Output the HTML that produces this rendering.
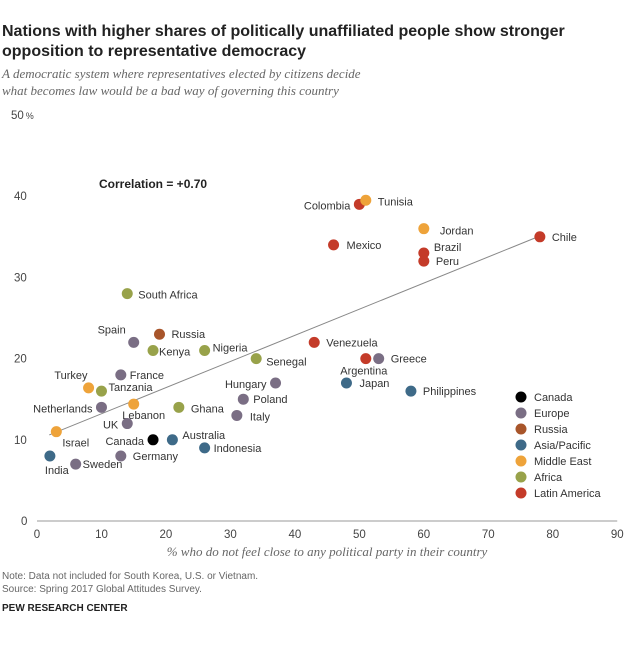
<!DOCTYPE html>
<html><head><meta charset="utf-8"><style>
body{margin:0;background:#fff;font-family:"Liberation Sans",sans-serif;}
</style></head><body>
<svg id="chart" width="640" height="640" viewBox="0 0 640 640" xmlns="http://www.w3.org/2000/svg" font-family="Liberation Sans, sans-serif">
<text x="2" y="36" font-size="16" font-weight="bold" fill="#222">Nations with higher shares of politically unaffiliated people show stronger</text>
<text x="2" y="56" font-size="16" font-weight="bold" fill="#222">opposition to representative democracy</text>
<text x="2" y="78" font-size="13" font-style="italic" fill="#666" font-family="Liberation Serif, serif">A democratic system where representatives elected by citizens decide</text>
<text x="2" y="95" font-size="13" font-style="italic" fill="#666" font-family="Liberation Serif, serif">what becomes law would be a bad way of governing this country</text>
<text x="99" y="188" font-size="12" font-weight="bold" fill="#222">Correlation = +0.70</text>
<text x="327" y="556" font-size="13" font-style="italic" fill="#666" text-anchor="middle" font-family="Liberation Serif, serif">% who do not feel close to any political party in their country</text>
<text x="2" y="579" font-size="10" fill="#666">Note: Data not included for South Korea, U.S. or Vietnam.</text>
<text x="2" y="592" font-size="10" fill="#666">Source: Spring 2017 Global Attitudes Survey.</text>
<text x="2" y="611" font-size="10" font-weight="bold" fill="#222">PEW RESEARCH CENTER</text>
<g id="axes"></g><g id="marks"></g><g id="legend"></g>
</svg>
<script>
const countries=["Chile","Colombia","Tunisia","Jordan","Mexico","Brazil","Peru","South Africa","Spain","Russia","Kenya","Nigeria","Senegal","Venezuela","Argentina","Greece","France","Hungary","Japan","Turkey","Tanzania","Philippines","Netherlands","Lebanon","Ghana","Poland","Italy","UK","Israel","Canada","Australia","Indonesia","India","Germany","Sweden"];
const xValues=[78,50,51,60,46,60,60,14,15,19,18,26,34,43,51,53,13,37,48,8,10,58,10,15,22,32,31,14,3,18,21,26,2,13,6];
const yValues=[35,39,39.5,36,34,33,32,28,22,23,21,21,20,22,20,20,18,17,17,16.4,16,16,14,14.4,14,15,13,12,11,10,10,9,8,8,7];
const regions=["LA","LA","ME","ME","LA","LA","LA","AF","EU","RU","AF","AF","AF","LA","LA","EU","EU","EU","AP","ME","AF","AP","EU","ME","AF","EU","EU","EU","ME","CA","AP","AP","AP","EU","EU"];
const xTicks=[0,10,20,30,40,50,60,70,80,90];
const yTicks=[0,10,20,30,40,50];
const trendX=[1.9,78];
const trendY=[10.6,35.1];
const legendKeys=["CA","EU","RU","AP","ME","AF","LA"];
const legendLabels=["Canada","Europe","Russia","Asia/Pacific","Middle East","Africa","Latin America"];
const colors={CA:"#000",EU:"#7a6e84",RU:"#a8552a",AP:"#3e6a88",ME:"#eea33a",AF:"#98a24a",LA:"#c43b29"};
const lab={Chile:[12,4,"start"],Colombia:[-9,5,"end"],Tunisia:[12,5,"start"],Jordan:[16,6,"start"],Mexico:[13,4,"start"],Brazil:[10,-2,"start"],Peru:[12,4,"start"],"South Africa":[11,5,"start"],Spain:[-8,-9,"end"],Russia:[12,4,"start"],Kenya:[6,5,"start"],Nigeria:[8,1,"start"],Senegal:[10,7,"start"],Venezuela:[12,4,"start"],Argentina:[-2,16,"middle"],Greece:[12,4,"start"],France:[9,4,"start"],Hungary:[-9,5,"end"],Japan:[13,4,"start"],Turkey:[-1,-9,"end"],Tanzania:[7,0,"start"],Philippines:[12,4,"start"],Netherlands:[-9,5,"end"],Lebanon:[10,15,"middle"],Ghana:[12,5,"start"],Poland:[10,4,"start"],Italy:[13,5,"start"],UK:[-9,5,"end"],Israel:[6,15,"start"],Canada:[-9,5,"end"],Australia:[10,-1,"start"],Indonesia:[9,4,"start"],India:[-5,18,"start"],Germany:[12,4,"start"],Sweden:[7,4,"start"]};
const NS="http://www.w3.org/2000/svg";
const X=v=>37+v*6.447, Y=v=>521-v*8.12;
function mk(t,a,p,txt){const e=document.createElementNS(NS,t);for(const k in a)e.setAttribute(k,a[k]);if(txt!=null)e.textContent=txt;p.appendChild(e);return e;}
const axes=document.getElementById('axes'),marks=document.getElementById('marks'),leg=document.getElementById('legend');
let ax=mk('line',{x1:37,x2:X(90),y1:521,y2:521,stroke:"#999","stroke-width":1},axes);


xTicks.forEach(t=>{const e=mk('text',{x:X(t),y:538,"font-size":11.5,fill:"#444","text-anchor":"middle"},axes,String(t));

});
yTicks.forEach(t=>{const e=mk('text',{x:t==50?11:(t==0?21:14),y:Y(t)+4,"font-size":11.5,fill:"#444"},axes,String(t));


if(t==50){mk('tspan',{"font-size":9,dx:2},e,"%");}});
const tl=mk('line',{x1:X(trendX[0]),y1:Y(trendY[0]),x2:X(trendX[1]),y2:Y(trendY[1]),stroke:"#888","stroke-width":1},marks);


countries.forEach((c,i)=>{const cx=X(xValues[i]),cy=Y(yValues[i]);
const d=mk('circle',{cx:cx,cy:cy,r:5.5,fill:colors[regions[i]]},marks);


const o=lab[c];const t=mk('text',{x:cx+o[0],y:cy+o[1],"font-size":11,fill:"#333","text-anchor":o[2]},marks,c);

});
legendKeys.forEach((k,i)=>{const y=397+i*16;
const d=mk('circle',{cx:521,cy:y,r:5.5,fill:colors[k]},leg);


const t=mk('text',{x:534,y:y+4,"font-size":11,fill:"#333"},leg,legendLabels[i]);

});
</script>
</body></html>
